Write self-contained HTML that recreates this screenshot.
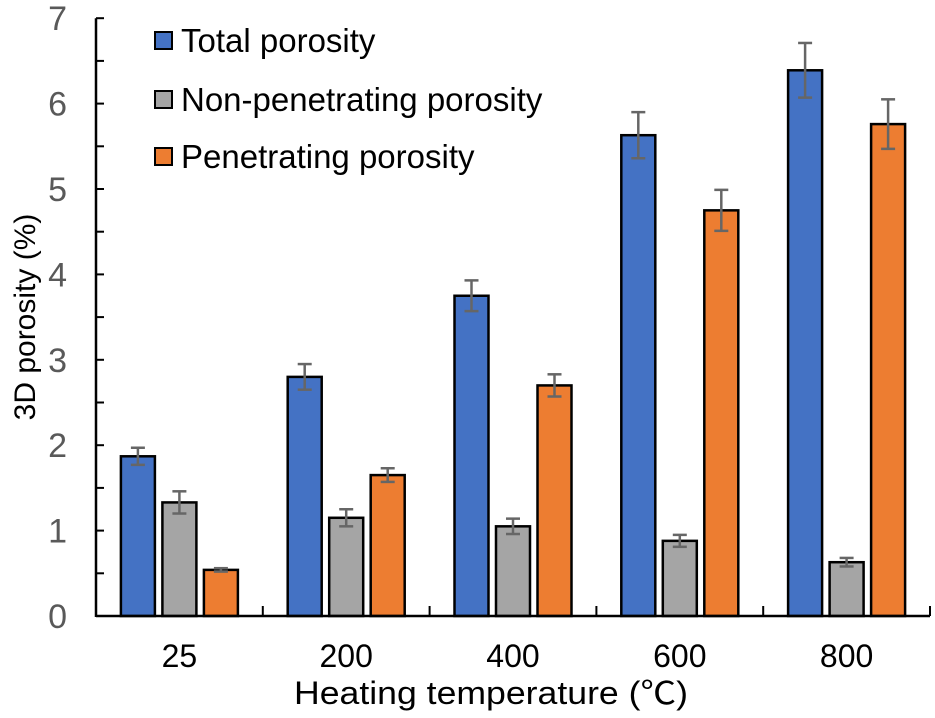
<!DOCTYPE html>
<html><head><meta charset="utf-8"><style>
html,body{margin:0;padding:0;background:#fff;}
svg{display:block;font-family:"Liberation Sans",Arial,"Noto Sans CJK SC",sans-serif;}
</style></head><body>
<svg id="chart" width="935" height="718" viewBox="0 0 935 718" xmlns="http://www.w3.org/2000/svg">
<g id="bars"></g>
<g id="axes"></g>
<g id="legend"></g>
<text x="0" y="0" transform="translate(35,317) rotate(-90)" text-anchor="middle" font-size="30" fill="#000">3D porosity (%)</text>
<text x="491" y="704" text-anchor="middle" font-size="32" textLength="394" lengthAdjust="spacingAndGlyphs" fill="#000">Heating temperature (℃)</text>
</svg>
<script>
const categories = ["25","200","400","600","800"];
const seriesNames = ["Total porosity","Non-penetrating porosity","Penetrating porosity"];
const totalVals = [1.87,2.80,3.75,5.63,6.39];
const totalErr = [0.10,0.15,0.18,0.27,0.32];
const nonPenVals = [1.33,1.15,1.05,0.88,0.63];
const nonPenErr = [0.13,0.10,0.09,0.07,0.05];
const penVals = [0.54,1.65,2.70,4.75,5.76];
const penErr = [0.02,0.08,0.13,0.24,0.29];
const yTicks = [0,1,2,3,4,5,6,7];

const NS="http://www.w3.org/2000/svg";
const x0=96, x1=930, y0=616, pxPerUnit=85.4;
const groupW=(x1-x0)/categories.length;
function yScale(v){return y0-v*pxPerUnit;}
function xCenter(i){return x0+groupW*(i+0.5);}
function mk(tag,attrs,parent){const e=document.createElementNS(NS,tag);for(const k in attrs)e.setAttribute(k,attrs[k]);parent.appendChild(e);return e;}

const colors=["#4472c4","#a5a5a5","#ed7d31"];
const series=[[totalVals,totalErr],[nonPenVals,nonPenErr],[penVals,penErr]];
const bars=document.getElementById('bars');
const bw=34, off=41.5;
series.forEach((s,si)=>{
  s[0].forEach((v,i)=>{
    const cx=xCenter(i)+(si-1)*off;
    const r=mk('rect',{x:cx-bw/2,y:yScale(v),width:bw,height:y0-yScale(v),fill:colors[si],stroke:"#000","stroke-width":2.5},bars);
    
    
    const e=s[1][i];
    const g=mk('g',{stroke:"#666","stroke-width":2.5},bars);
    
    
    mk('line',{x1:cx,x2:cx,y1:yScale(v+e),y2:yScale(v-e)},g);
    mk('line',{x1:cx-7,x2:cx+7,y1:yScale(v+e),y2:yScale(v+e)},g);
    mk('line',{x1:cx-7,x2:cx+7,y1:yScale(v-e),y2:yScale(v-e)},g);
  });
});

const axes=document.getElementById('axes');
const ya=mk('line',{x1:x0,x2:x0,y1:yScale(7),y2:y0+1,stroke:"#000","stroke-width":2.5},axes);

const xa=mk('line',{x1:x0,x2:x1,y1:y0,y2:y0,stroke:"#000","stroke-width":2.5},axes);

for(let t=0;t<=14;t++){
  mk('line',{x1:x0,x2:x0+8,y1:yScale(t/2),y2:yScale(t/2),stroke:"#000","stroke-width":2},axes);
}
yTicks.forEach(t=>{
  const tx=mk('text',{x:67,y:yScale(t)+12,"text-anchor":"end","font-size":34,fill:"#595959"},axes);
  tx.textContent=t;
  
  
});
for(let i=1;i<=categories.length;i++){
  mk('line',{x1:x0+groupW*i,x2:x0+groupW*i,y1:y0-10,y2:y0,stroke:"#000","stroke-width":2},axes);
}
categories.forEach((c,i)=>{
  const tx=mk('text',{x:xCenter(i),y:667,"text-anchor":"middle","font-size":32,fill:"#000"},axes);
  tx.textContent=c;
  
  
});

const legend=document.getElementById('legend');


const lb=[52,111,168];
seriesNames.forEach((n,si)=>{
  const r=mk('rect',{x:155,y:lb[si]-20,width:17,height:17,fill:colors[si],stroke:"#000","stroke-width":2},legend);
  
  
  const t=mk('text',{x:181,y:lb[si],"font-size":33,fill:"#000"},legend);
  t.textContent=n;
  
  
});
</script>
</body></html>
